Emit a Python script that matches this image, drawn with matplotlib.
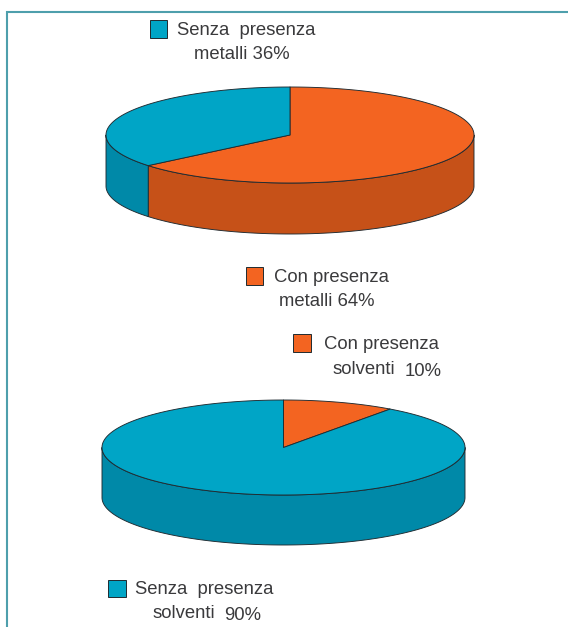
import numpy as np
import matplotlib
matplotlib.use("Agg")
import matplotlib.pyplot as plt
from matplotlib.patches import Polygon, Rectangle

# Shares of samples, clockwise from twelve o'clock
metalli_labels = ["Con presenza metalli", "Senza presenza metalli"]
metalli_values = [64, 36]
solventi_labels = ["Con presenza solventi", "Senza presenza solventi"]
solventi_values = [10, 90]

ORANGE, ORANGE_SIDE = "#F36421", "#C65118"
BLUE, BLUE_SIDE = "#00A5C6", "#0089A8"
EDGE = "#1F2A30"
INK = "#3A3A3C"
FRAME = "#4E9FAC"

W, H = 568, 627
plt.rcParams["font.family"] = ["Liberation Sans", "DejaVu Sans"]
fig = plt.figure(figsize=(W / 100, H / 100), dpi=100)
ax = fig.add_axes([0, 0, 1, 1])
ax.set_xlim(0, W)
ax.set_ylim(H, 0)
ax.axis("off")


def rim(cx, cy, rx, ry, a0, a1):
    t = np.radians(np.linspace(a0, a1, max(int(abs(a1 - a0)) * 2, 2)))
    return np.column_stack([cx + rx * np.sin(t), cy - ry * np.cos(t)])


def pie3d(values, colors, sides, cx, cy, rx, ry, depth):
    total = sum(values)
    start = 0.0
    for v, c, s in zip(values, colors, sides):
        end = start + 360.0 * v / total
        # The wall shows only along the front half of the disc
        a0, a1 = max(start, 90), min(end, 270)
        if a1 > a0:
            top = rim(cx, cy, rx, ry, a0, a1)
            low = top[::-1] + [0, depth]
            ax.add_patch(Polygon(np.vstack([top, low]), closed=True, fc=s,
                                 ec=EDGE, lw=0.65, joinstyle="round", zorder=2))
        face = np.vstack([[cx, cy], rim(cx, cy, rx, ry, start, end)])
        ax.add_patch(Polygon(face, closed=True, fc=c, ec=EDGE, lw=0.65,
                             joinstyle="round", zorder=3))
        start = end


def key(x, y, color):
    ax.add_patch(Rectangle((x, y), 17.5, 17.5, fc=color, ec=EDGE, lw=0.7, zorder=3))


def label(x, y, text, ha="left"):
    ax.text(x, y + 1.5, text, ha=ha, va="center", fontsize=13.3, color=INK)


# Outer frame, open towards the right and bottom
ax.plot([7, 7, W], [H, 11.5, 11.5], color=FRAME, lw=1.5, solid_joinstyle="miter")

pie3d(metalli_values, [ORANGE, BLUE], [ORANGE_SIDE, BLUE_SIDE],
      290, 135, 184, 48, 51)
pie3d(solventi_values, [ORANGE, BLUE], [ORANGE_SIDE, BLUE_SIDE],
      283.5, 447.5, 181.5, 47.5, 50)

key(149.5, 20, BLUE)
label(177, 29, "Senza  presenza")
label(194, 53, "metalli 36%")

key(245.5, 267, ORANGE)
label(274, 276, "Con presenza")
label(279, 300, "metalli 64%")

key(293, 334, ORANGE)
label(324, 343, "Con presenza")
label(332.5, 368, "solventi")
label(404.5, 370, "10%")

key(108, 579.5, BLUE)
label(135, 588, "Senza  presenza")
label(153, 612, "solventi")
label(224, 614, "90%")

fig.savefig("out.png", dpi=100, facecolor="white")
